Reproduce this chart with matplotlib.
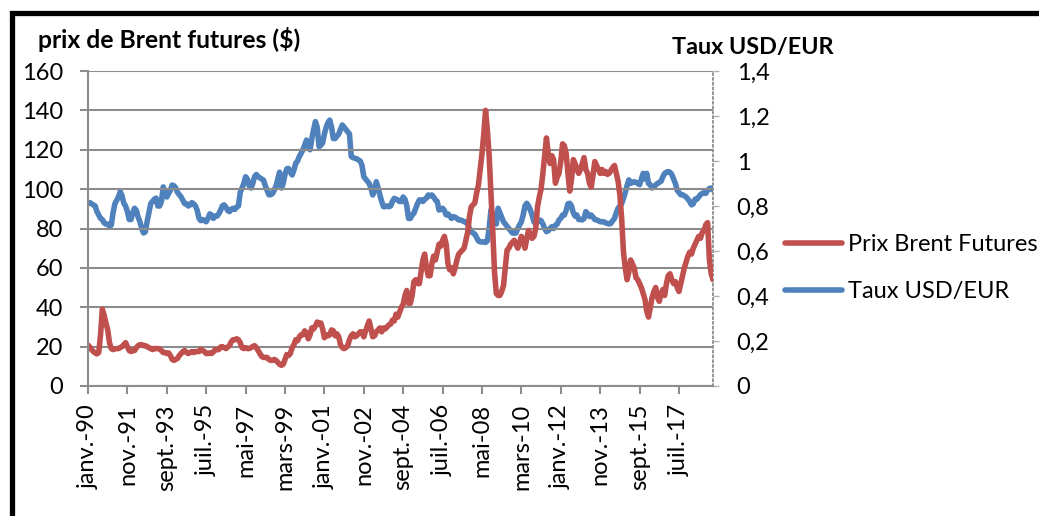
import matplotlib.pyplot as plt
from matplotlib.patches import Rectangle
from matplotlib.ticker import FuncFormatter
import numpy as np

plt.rcParams['font.family'] = ['Lato', 'DejaVu Sans']

# monthly values, janv. 1990 -> févr. 2019
brent = [
    20.8, 19.8, 18.5, 17.5, 16.8, 16.3, 17.0, 26.0, 39.0, 36.0, 32.0, 28.5,   # 1990
    22.0, 19.0, 18.5, 18.8, 19.0, 19.0, 19.5, 20.0, 21.0, 22.0, 20.0, 18.0,   # 1991
    17.5, 18.0, 18.0, 19.5, 20.5, 21.0, 21.0, 20.5, 20.5, 20.0, 19.5, 19.0,   # 1992
    18.5, 19.0, 19.0, 19.0, 18.8, 18.0, 17.0, 17.0, 16.5, 16.8, 15.5, 13.5,   # 1993
    13.0, 13.5, 14.0, 15.5, 16.5, 17.5, 18.0, 17.0, 16.5, 17.0, 17.5, 17.0,   # 1994
    17.5, 17.5, 17.5, 18.5, 18.0, 17.5, 16.5, 16.5, 16.8, 16.5, 17.3, 18.5,   # 1995
    18.5, 18.5, 19.8, 20.0, 19.5, 19.0, 19.8, 20.5, 22.5, 23.5, 23.5, 24.0,   # 1996
    23.5, 22.0, 19.5, 19.0, 19.5, 19.0, 19.0, 19.5, 20.0, 20.5, 19.5, 18.0,   # 1997
    16.5, 15.0, 14.5, 14.5, 14.5, 13.5, 13.0, 13.0, 13.5, 13.0, 12.0, 11.0,   # 1998
    10.5, 11.0, 13.5, 16.0, 15.5, 16.5, 19.5, 21.0, 23.5, 23.0, 25.0, 26.0,   # 1999
    26.0, 28.0, 27.0, 24.0, 26.0, 29.5, 29.0, 30.5, 32.5, 31.5, 32.0, 29.0,   # 2000
    24.5, 26.0, 25.5, 26.0, 28.5, 28.0, 25.5, 26.5, 25.0, 21.0, 19.5, 19.0,   # 2001
    19.5, 20.5, 23.5, 25.5, 26.5, 25.0, 25.5, 26.5, 27.5, 27.5, 25.0, 28.0,   # 2002
    30.5, 33.0, 29.0, 25.0, 25.5, 27.5, 28.5, 29.5, 27.5, 29.5, 29.0, 30.0,   # 2003
    31.0, 31.5, 33.5, 33.0, 36.5, 35.0, 37.5, 40.0, 41.5, 46.0, 48.5, 42.0,   # 2004
    42.0, 46.0, 53.0, 54.0, 52.0, 52.0, 58.0, 64.0, 67.0, 60.0, 56.0, 56.0,   # 2005
    62.0, 66.0, 64.0, 68.0, 72.0, 71.0, 74.0, 76.0, 72.0, 62.0, 59.0, 60.0,   # 2006
    57.0, 60.0, 64.0, 67.0, 68.0, 69.0, 70.0, 74.0, 78.0, 86.0, 91.0, 92.0,   # 2007
    93.0, 98.0, 102.0, 110.0, 118.0, 128.0, 140.0, 130.0, 117.0, 98.0, 79.0, 58.0,  # 2008
    47.0, 46.0, 46.0, 48.0, 51.0, 60.0, 69.0, 70.0, 72.0, 73.0, 74.0, 72.0,   # 2009
    70.0, 73.0, 76.0, 73.0, 70.0, 75.0, 79.0, 77.0, 75.0, 76.0, 80.0, 91.0,   # 2010
    96.0, 100.0, 108.0, 117.0, 126.0, 118.0, 113.0, 117.0, 115.0, 103.0, 106.0, 108.0,  # 2011
    114.0, 123.0, 122.0, 118.0, 108.0, 99.0, 105.0, 115.0, 113.0, 110.0, 108.0, 110.0,  # 2012
    113.0, 116.0, 110.0, 108.0, 103.0, 101.0, 107.0, 114.0, 112.0, 110.0, 108.0, 110.0,  # 2013
    108.0, 109.0, 107.5, 108.0, 109.5, 111.0, 112.0, 108.0, 104.0, 97.0, 85.0, 68.0,   # 2014
    60.0, 54.0, 58.0, 64.0, 62.0, 60.0, 55.0, 54.0, 52.0, 50.0, 47.0, 44.0,   # 2015
    38.0, 35.0, 40.0, 45.0, 48.0, 50.0, 45.0, 43.0, 47.0, 49.0, 46.0, 52.0,   # 2016
    56.0, 57.0, 54.0, 52.0, 53.0, 50.0, 48.0, 52.0, 56.0, 60.0, 63.0, 66.0,   # 2017
    68.0, 67.0, 70.0, 72.0, 74.0, 76.0, 75.0, 78.0, 79.0, 82.0, 83.0, 64.0,   # 2018
    57.0, 54.0,                                                               # 2019
]

usd_eur = [
    0.812, 0.815, 0.81, 0.805, 0.80, 0.775, 0.76, 0.745, 0.74, 0.725, 0.72, 0.72,
    0.71, 0.715, 0.77, 0.81, 0.825, 0.84, 0.864, 0.845, 0.812, 0.80, 0.775, 0.74,
    0.74, 0.77, 0.79, 0.78, 0.75, 0.73, 0.70, 0.68, 0.685, 0.73, 0.77, 0.81,
    0.82, 0.83, 0.835, 0.80, 0.80, 0.82, 0.885, 0.86, 0.84, 0.855, 0.87, 0.893,
    0.89, 0.88, 0.86, 0.85, 0.84, 0.825, 0.81, 0.81, 0.80, 0.805, 0.815, 0.81,
    0.80, 0.78, 0.745, 0.735, 0.74, 0.735, 0.73, 0.745, 0.765, 0.76, 0.745, 0.755,
    0.755, 0.765, 0.78, 0.80, 0.805, 0.795, 0.78, 0.775, 0.785, 0.79, 0.785, 0.795,
    0.80, 0.86, 0.88, 0.90, 0.93, 0.92, 0.89, 0.88, 0.90, 0.93, 0.94, 0.93,
    0.925, 0.92, 0.915, 0.89, 0.87, 0.85, 0.85, 0.855, 0.87, 0.89, 0.92, 0.95,
    0.88, 0.90, 0.94, 0.965, 0.967, 0.95, 0.938, 0.96, 0.99, 1.0, 1.02, 1.034,
    1.05, 1.07, 1.093, 1.07, 1.05, 1.10, 1.14, 1.175, 1.15, 1.064, 1.07, 1.08,
    1.12, 1.15, 1.17, 1.182, 1.15, 1.10, 1.10, 1.11, 1.12, 1.14, 1.16, 1.15,
    1.14, 1.13, 1.12, 1.02, 1.015, 1.012, 1.01, 1.005, 1.0, 0.98, 0.93, 0.92,
    0.91, 0.90, 0.88, 0.849, 0.87, 0.908, 0.88, 0.849, 0.82, 0.797, 0.797, 0.80,
    0.797, 0.80, 0.82, 0.834, 0.83, 0.827, 0.82, 0.82, 0.84, 0.83, 0.80, 0.745,
    0.745, 0.76, 0.768, 0.79, 0.81, 0.827, 0.827, 0.82, 0.83, 0.835, 0.849, 0.845,
    0.849, 0.84, 0.827, 0.82, 0.782, 0.785, 0.79, 0.78, 0.76, 0.765, 0.755, 0.745,
    0.753, 0.75, 0.745, 0.738, 0.738, 0.735, 0.73, 0.73, 0.72, 0.70, 0.686, 0.68,
    0.675, 0.66, 0.645, 0.641, 0.64, 0.641, 0.638, 0.645, 0.70, 0.782, 0.76, 0.753,
    0.72, 0.79, 0.77, 0.75, 0.73, 0.72, 0.71, 0.70, 0.69, 0.68, 0.679, 0.68,
    0.70, 0.716, 0.73, 0.76, 0.80, 0.812, 0.80, 0.782, 0.76, 0.73, 0.72, 0.73,
    0.738, 0.735, 0.72, 0.70, 0.686, 0.69, 0.70, 0.708, 0.70, 0.715, 0.72, 0.738,
    0.745, 0.76, 0.76, 0.78, 0.81, 0.812, 0.80, 0.77, 0.755, 0.76, 0.74, 0.74,
    0.738, 0.745, 0.775, 0.765, 0.753, 0.76, 0.75, 0.74, 0.738, 0.735, 0.73, 0.73,
    0.73, 0.725, 0.723, 0.72, 0.723, 0.735, 0.745, 0.77, 0.79, 0.80, 0.81, 0.834,
    0.86, 0.89, 0.916, 0.90, 0.905, 0.908, 0.905, 0.90, 0.895, 0.92, 0.945, 0.92,
    0.945, 0.90, 0.894, 0.88, 0.885, 0.894, 0.90, 0.905, 0.91, 0.93, 0.945, 0.95,
    0.953, 0.95, 0.94, 0.92, 0.90, 0.87, 0.86, 0.85, 0.85, 0.845, 0.84, 0.83,
    0.82, 0.805, 0.81, 0.83, 0.83, 0.84, 0.85, 0.856, 0.86, 0.856, 0.87, 0.878,
    0.88, 0.871,
]

tick_labels = ['janv.-90', 'nov.-91', 'sept.-93', 'juil.-95', 'mai-97', 'mars-99',
               'janv.-01', 'nov.-02', 'sept.-04', 'juil.-06', 'mai-08', 'mars-10',
               'janv.-12', 'nov.-13', 'sept.-15', 'juil.-17']

red = '#C0504D'
blue = '#4F81BD'
grey = '#8C8C8C'


def fr_fmt(v, pos):
    s = f'{v:.1f}'.rstrip('0').rstrip('.')
    return s.replace('.', ',')


x = np.arange(len(brent))

fig = plt.figure(figsize=(10.39, 5.16), dpi=100)
ax = fig.add_axes([88/1039, 1-386/516, (713-88)/1039, (386-71)/516])
ax2 = ax.twinx()

l1, = ax.plot(x, brent, color=red, lw=4, solid_capstyle='round', solid_joinstyle='round',
              label='Prix Brent Futures')
l2, = ax2.plot(x, usd_eur, color=blue, lw=4, solid_capstyle='round', solid_joinstyle='round',
               label='Taux USD/EUR')
ax.set_zorder(ax2.get_zorder() + 1)
ax.patch.set_visible(False)

ax.set_xlim(0, len(brent) - 1)
ax.set_ylim(0, 160)
ax.set_yticks(range(0, 161, 20))
ax2.set_ylim(0, 1.4)
ax2.set_yticks(np.arange(0, 1.41, 0.2))
ax2.yaxis.set_major_formatter(FuncFormatter(fr_fmt))

ax.set_xticks(np.arange(0, len(brent), 22))
ax.set_xticklabels(tick_labels, rotation=90)

ax.grid(axis='y', color=grey, lw=1.5)
ax.set_axisbelow(True)
for s in ['top', 'right']:
    ax.spines[s].set_visible(False)
for s in ['left', 'bottom']:
    ax.spines[s].set_color(grey)
    ax.spines[s].set_linewidth(1.5)
for s in ['top', 'left', 'bottom']:
    ax2.spines[s].set_visible(False)
ax2.spines['right'].set_color(grey)
ax2.spines['right'].set_linestyle(':')
ax2.spines['right'].set_linewidth(1.3)

ax.tick_params(axis='y', length=6, width=1.5, color=grey, pad=12, labelsize=17)
ax.tick_params(axis='x', length=6, width=1.5, color=grey, pad=7, labelsize=17)
ax2.tick_params(axis='y', length=4, width=1, color='#B0B0B0', pad=13, labelsize=17)

fig.text(38/1039, 1-40/516, 'prix de Brent futures ($)', fontsize=17.8, fontweight='bold',
         va='center', ha='left')
fig.text(672/1039, 1-48/516, 'Taux USD/EUR', fontsize=16.8, fontweight='bold',
         va='center', ha='left')

fig.legend(handles=[l1, l2], loc='center left', bbox_to_anchor=(785/1039, 1-268/516),
           frameon=False, fontsize=17, handlelength=2.4, handletextpad=0.25,
           labelspacing=1.1, borderpad=0, borderaxespad=0)

fig.add_artist(Rectangle((12/1039, -0.2), 1.2, 0.2 + (516-12.5)/516, transform=fig.transFigure,
                         fill=False, edgecolor='black', lw=3.8))

fig.savefig('out.png', dpi=100)
